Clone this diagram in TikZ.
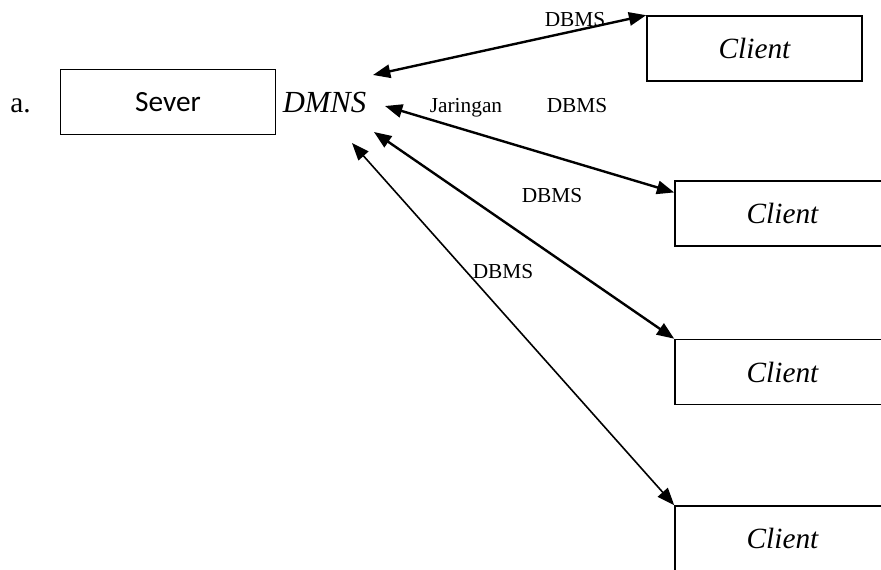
\documentclass[tikz,border=0pt]{standalone}
\usepackage{fontspec}
\setmainfont{Liberation Serif}
\newfontfamily\calibri{Carlito}
\usetikzlibrary{arrows.meta}

\begin{document}
\begin{tikzpicture}[x=0.75pt,y=-0.75pt,
		box/.style={draw,line width=1.2pt,minimum width=161.25pt,minimum height=48.75pt,inner sep=0pt},
		big/.style={font=\fontsize{22}{26}\selectfont,inner sep=0pt},
		lbl/.style={font=\fontsize{16}{19}\selectfont,anchor=base,inner sep=0pt},
		link/.style={{Triangle[length=13pt,width=10pt]}-{Triangle[length=13pt,width=10pt]},line width=1.8pt}]
				\clip (0,0) rectangle (881,570);
				\node[big,anchor=base] (item) at (20.5,113) {a.};
				\node[box,font=\calibri\fontsize{22}{26}\selectfont] (server) at (168,102) {Sever};
				\node[big,anchor=base,font=\fontsize{23}{27}\selectfont\itshape] (dmns) at (324.5,113) {DMNS};
				% client boxes
				\node[box,big,font=\fontsize{22}{26}\selectfont\itshape] (c1) at (754.5,48.5) {Client};
				\node[box,big,font=\fontsize{22}{26}\selectfont\itshape] (c2) at (782.5,213.5) {Client};
				\node[box,big,font=\fontsize{22}{26}\selectfont\itshape] (c3) at (782.5,372) {Client};
				\node[box,big,font=\fontsize{22}{26}\selectfont\itshape] (c4) at (782.5,538.5) {Client};
				\coordinate (d1) at (373,75);
				\coordinate (d2) at (385,106);
				\coordinate (d3) at (374,132);
				\coordinate (d4) at (352,143);
				\draw[link] (d1) -- (c1.north west);
				\draw[link] (d2) -- (c2.169);
				\draw[link] (d3) -- (c3.north west);
				\draw[link,line width=1.2pt] (d4) -- (c4.north west);
				\node[lbl] (l1) at (575,27) {DBMS};
				\node[lbl] (l2) at (466,113) {Jaringan};
				\node[lbl] (l3) at (577,113) {DBMS};
				\node[lbl] (l4) at (552,203) {DBMS};
				\node[lbl] (l5) at (503,278) {DBMS};
		\end{tikzpicture}
\end{document}
